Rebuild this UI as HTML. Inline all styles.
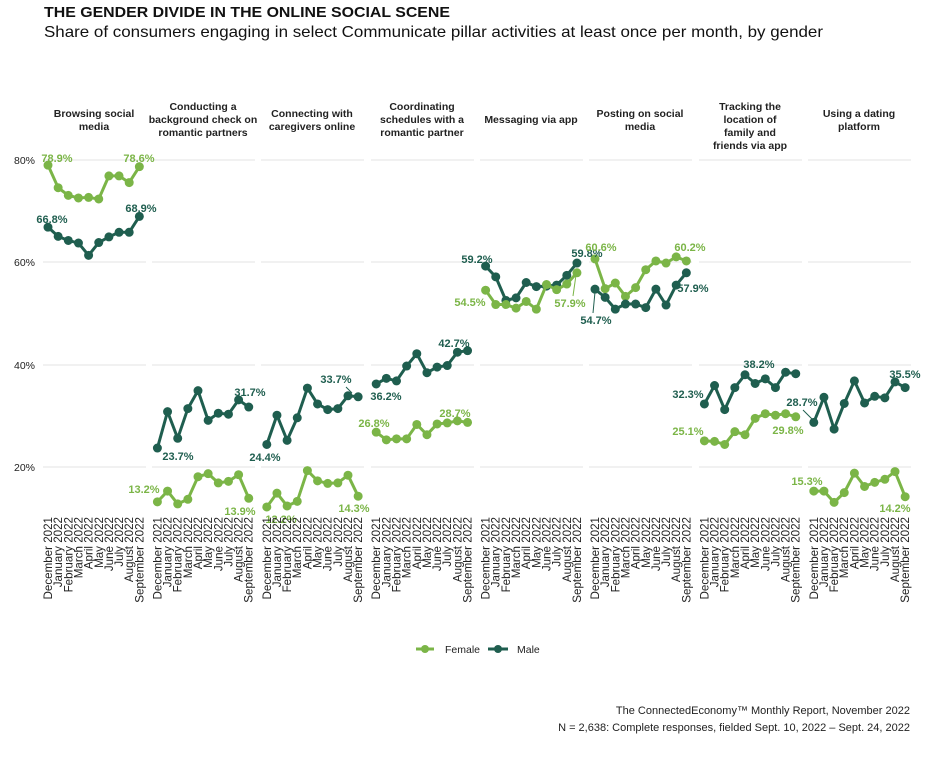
<!DOCTYPE html>
<html><head><meta charset="utf-8"><style>
html,body{margin:0;padding:0;background:#fff;}
svg{display:block;font-family:"Liberation Sans",sans-serif;}
.t{font-size:10.5px;font-weight:bold;fill:#222;text-anchor:middle;}
.m{font-size:11.6px;fill:#222;text-anchor:end;}
.f{fill:#7bb547;font-size:11px;font-weight:bold;text-anchor:middle;}
.k{fill:#1f5e4f;font-size:11px;font-weight:bold;text-anchor:middle;}
.g{stroke:#e3e3e3;stroke-width:1;}
.lf{fill:none;stroke:#7bb547;stroke-width:3;vector-effect:non-scaling-stroke;stroke-linejoin:round;}
.df{fill:none;stroke:#7bb547;stroke-width:9;stroke-linecap:round;vector-effect:non-scaling-stroke;}
.lm{fill:none;stroke:#1f5e4f;stroke-width:3;vector-effect:non-scaling-stroke;stroke-linejoin:round;}
.dm{fill:none;stroke:#1f5e4f;stroke-width:9;stroke-linecap:round;vector-effect:non-scaling-stroke;}
</style></head><body>
<svg width="935" height="760" viewBox="0 0 935 760" xmlns="http://www.w3.org/2000/svg">
<text x="44" y="17" font-size="15" font-weight="bold" fill="#111" textLength="406" lengthAdjust="spacingAndGlyphs">THE GENDER DIVIDE IN THE ONLINE SOCIAL SCENE</text>
<text x="44" y="37" font-size="16" fill="#111" textLength="779" lengthAdjust="spacingAndGlyphs">Share of consumers engaging in select Communicate pillar activities at least once per month, by gender</text>

<g font-size="10.5" fill="#222">
<text x="14" y="164">80%</text><text x="14" y="266">60%</text><text x="14" y="369">40%</text><text x="14" y="471">20%</text>
</g>
<g class="g">
<line x1="43" y1="160" x2="146" y2="160"/><line x1="43" y1="262" x2="146" y2="262"/><line x1="43" y1="365" x2="146" y2="365"/><line x1="43" y1="467" x2="146" y2="467"/>
<line x1="152" y1="160" x2="255" y2="160"/><line x1="152" y1="262" x2="255" y2="262"/><line x1="152" y1="365" x2="255" y2="365"/><line x1="152" y1="467" x2="255" y2="467"/>
<line x1="261" y1="160" x2="364" y2="160"/><line x1="261" y1="262" x2="364" y2="262"/><line x1="261" y1="365" x2="364" y2="365"/><line x1="261" y1="467" x2="364" y2="467"/>
<line x1="371" y1="160" x2="474" y2="160"/><line x1="371" y1="262" x2="474" y2="262"/><line x1="371" y1="365" x2="474" y2="365"/><line x1="371" y1="467" x2="474" y2="467"/>
<line x1="480" y1="160" x2="583" y2="160"/><line x1="480" y1="262" x2="583" y2="262"/><line x1="480" y1="365" x2="583" y2="365"/><line x1="480" y1="467" x2="583" y2="467"/>
<line x1="589" y1="160" x2="692" y2="160"/><line x1="589" y1="262" x2="692" y2="262"/><line x1="589" y1="365" x2="692" y2="365"/><line x1="589" y1="467" x2="692" y2="467"/>
<line x1="699" y1="160" x2="802" y2="160"/><line x1="699" y1="262" x2="802" y2="262"/><line x1="699" y1="365" x2="802" y2="365"/><line x1="699" y1="467" x2="802" y2="467"/>
<line x1="808" y1="160" x2="911" y2="160"/><line x1="808" y1="262" x2="911" y2="262"/><line x1="808" y1="365" x2="911" y2="365"/><line x1="808" y1="467" x2="911" y2="467"/>
</g>

<text class="t" x="94" y="117">Browsing social</text><text class="t" x="94" y="130">media</text>
<text class="t" x="203" y="110">Conducting a</text><text class="t" x="203" y="123">background check on</text><text class="t" x="203" y="136">romantic partners</text>
<text class="t" x="312" y="117">Connecting with</text><text class="t" x="312" y="130">caregivers online</text>
<text class="t" x="422" y="110">Coordinating</text><text class="t" x="422" y="123">schedules with a</text><text class="t" x="422" y="136">romantic partner</text>
<text class="t" x="531" y="123">Messaging via app</text>
<text class="t" x="640" y="117">Posting on social</text><text class="t" x="640" y="130">media</text>
<text class="t" x="750" y="110">Tracking the</text><text class="t" x="750" y="123">location of</text><text class="t" x="750" y="136">family and</text><text class="t" x="750" y="149">friends via app</text>
<text class="t" x="859" y="117">Using a dating</text><text class="t" x="859" y="130">platform</text>

<g transform="translate(48,569.5) scale(10.15,-5.125)">
<polyline class="lf" points="0,78.9 1,74.5 2,73 3,72.5 4,72.6 5,72.3 6,76.8 7,76.8 8,75.5 9,78.6"/>
<path class="df" d="M0 78.9h0M1 74.5h0M2 73h0M3 72.5h0M4 72.6h0M5 72.3h0M6 76.8h0M7 76.8h0M8 75.5h0M9 78.6h0"/>
<polyline class="lm" points="0,66.8 1,65 2,64.2 3,63.7 4,61.3 5,63.8 6,64.9 7,65.8 8,65.8 9,68.9"/>
<path class="dm" d="M0 66.8h0M1 65h0M2 64.2h0M3 63.7h0M4 61.3h0M5 63.8h0M6 64.9h0M7 65.8h0M8 65.8h0M9 68.9h0"/>
</g>
<g transform="translate(157.4,569.5) scale(10.15,-5.125)">
<polyline class="lm" points="0,23.7 1,30.8 2,25.6 3,31.4 4,34.9 5,29.1 6,30.5 7,30.3 8,33.1 9,31.7"/>
<path class="dm" d="M0 23.7h0M1 30.8h0M2 25.6h0M3 31.4h0M4 34.9h0M5 29.1h0M6 30.5h0M7 30.3h0M8 33.1h0M9 31.7h0"/>
<polyline class="lf" points="0,13.2 1,15.3 2,12.8 3,13.7 4,18.1 5,18.7 6,16.9 7,17.2 8,18.5 9,13.9"/>
<path class="df" d="M0 13.2h0M1 15.3h0M2 12.8h0M3 13.7h0M4 18.1h0M5 18.7h0M6 16.9h0M7 17.2h0M8 18.5h0M9 13.9h0"/>
</g>
<g transform="translate(266.8,569.5) scale(10.15,-5.125)">
<polyline class="lm" points="0,24.4 1,30.1 2,25.2 3,29.6 4,35.4 5,32.3 6,31.2 7,31.4 8,33.9 9,33.7"/>
<path class="dm" d="M0 24.4h0M1 30.1h0M2 25.2h0M3 29.6h0M4 35.4h0M5 32.3h0M6 31.2h0M7 31.4h0M8 33.9h0M9 33.7h0"/>
<polyline class="lf" points="0,12.2 1,14.9 2,12.4 3,13.3 4,19.3 5,17.3 6,16.8 7,16.9 8,18.4 9,14.3"/>
<path class="df" d="M0 12.2h0M1 14.9h0M2 12.4h0M3 13.3h0M4 19.3h0M5 17.3h0M6 16.8h0M7 16.9h0M8 18.4h0M9 14.3h0"/>
</g>
<g transform="translate(376.2,569.5) scale(10.15,-5.125)">
<polyline class="lm" points="0,36.2 1,37.3 2,36.8 3,39.7 4,42.1 5,38.4 6,39.5 7,39.8 8,42.4 9,42.7"/>
<path class="dm" d="M0 36.2h0M1 37.3h0M2 36.8h0M3 39.7h0M4 42.1h0M5 38.4h0M6 39.5h0M7 39.8h0M8 42.4h0M9 42.7h0"/>
<polyline class="lf" points="0,26.8 1,25.3 2,25.5 3,25.5 4,28.3 5,26.3 6,28.4 7,28.6 8,29 9,28.7"/>
<path class="df" d="M0 26.8h0M1 25.3h0M2 25.5h0M3 25.5h0M4 28.3h0M5 26.3h0M6 28.4h0M7 28.6h0M8 29h0M9 28.7h0"/>
</g>
<g transform="translate(485.6,569.5) scale(10.15,-5.125)">
<polyline class="lm" points="0,59.2 1,57.1 2,52.5 3,53 4,56 5,55.2 6,55.3 7,55.5 8,57.4 9,59.8"/>
<path class="dm" d="M0 59.2h0M1 57.1h0M2 52.5h0M3 53h0M4 56h0M5 55.2h0M6 55.3h0M7 55.5h0M8 57.4h0M9 59.8h0"/>
<polyline class="lf" points="0,54.5 1,51.7 2,51.7 3,51 4,52.3 5,50.8 6,55.6 7,54.6 8,55.7 9,57.9"/>
<path class="df" d="M0 54.5h0M1 51.7h0M2 51.7h0M3 51h0M4 52.3h0M5 50.8h0M6 55.6h0M7 54.6h0M8 55.7h0M9 57.9h0"/>
</g>
<g transform="translate(595,569.5) scale(10.15,-5.125)">
<polyline class="lf" points="0,60.6 1,54.8 2,55.9 3,53.3 4,55 5,58.5 6,60.2 7,59.8 8,61 9,60.2"/>
<path class="df" d="M0 60.6h0M1 54.8h0M2 55.9h0M3 53.3h0M4 55h0M5 58.5h0M6 60.2h0M7 59.8h0M8 61h0M9 60.2h0"/>
<polyline class="lm" points="0,54.7 1,53.1 2,50.8 3,51.8 4,51.8 5,51.1 6,54.7 7,51.6 8,55.5 9,57.9"/>
<path class="dm" d="M0 54.7h0M1 53.1h0M2 50.8h0M3 51.8h0M4 51.8h0M5 51.1h0M6 54.7h0M7 51.6h0M8 55.5h0M9 57.9h0"/>
</g>
<g transform="translate(704.4,569.5) scale(10.15,-5.125)">
<polyline class="lm" points="0,32.3 1,35.9 2,31.2 3,35.5 4,38 5,36.3 6,37.2 7,35.5 8,38.5 9,38.2"/>
<path class="dm" d="M0 32.3h0M1 35.9h0M2 31.2h0M3 35.5h0M4 38h0M5 36.3h0M6 37.2h0M7 35.5h0M8 38.5h0M9 38.2h0"/>
<polyline class="lf" points="0,25.1 1,25 2,24.4 3,26.9 4,26.3 5,29.5 6,30.4 7,30.1 8,30.4 9,29.8"/>
<path class="df" d="M0 25.1h0M1 25h0M2 24.4h0M3 26.9h0M4 26.3h0M5 29.5h0M6 30.4h0M7 30.1h0M8 30.4h0M9 29.8h0"/>
</g>
<g transform="translate(813.8,569.5) scale(10.15,-5.125)">
<polyline class="lm" points="0,28.7 1,33.6 2,27.4 3,32.4 4,36.8 5,32.5 6,33.8 7,33.5 8,36.6 9,35.5"/>
<path class="dm" d="M0 28.7h0M1 33.6h0M2 27.4h0M3 32.4h0M4 36.8h0M5 32.5h0M6 33.8h0M7 33.5h0M8 36.6h0M9 35.5h0"/>
<polyline class="lf" points="0,15.3 1,15.3 2,13.1 3,15 4,18.8 5,16.2 6,17 7,17.6 8,19.1 9,14.2"/>
<path class="df" d="M0 15.3h0M1 15.3h0M2 13.1h0M3 15h0M4 18.8h0M5 16.2h0M6 17h0M7 17.6h0M8 19.1h0M9 14.2h0"/>
</g>

<text class="f" x="57" y="162">78.9%</text><text class="f" x="139" y="162">78.6%</text>
<text class="k" x="52" y="223">66.8%</text><text class="k" x="141" y="212">68.9%</text>
<text class="k" x="250" y="396">31.7%</text><text class="k" x="178" y="460">23.7%</text>
<text class="f" x="144" y="493">13.2%</text><text class="f" x="240" y="515">13.9%</text>
<text class="k" x="265" y="461">24.4%</text><text class="k" x="336" y="383">33.7%</text>
<line x1="346" y1="387" x2="352" y2="393" stroke="#1f5e4f" stroke-width="1"/>
<text class="f" x="281" y="523">12.2%</text><text class="f" x="354" y="512">14.3%</text>
<text class="k" x="386" y="400">36.2%</text><text class="k" x="454" y="347">42.7%</text>
<text class="f" x="374" y="427">26.8%</text><text class="f" x="455" y="417">28.7%</text>
<text class="k" x="477" y="263">59.2%</text><text class="k" x="587" y="257">59.8%</text>
<text class="f" x="470" y="306">54.5%</text><text class="f" x="570" y="307">57.9%</text>
<line x1="573" y1="296" x2="576" y2="275" stroke="#7bb547" stroke-width="1"/>
<text class="f" x="601" y="251">60.6%</text><text class="f" x="690" y="251">60.2%</text>
<text class="k" x="596" y="324">54.7%</text><text class="k" x="693" y="292">57.9%</text>
<line x1="593" y1="313" x2="595" y2="292" stroke="#1f5e4f" stroke-width="1"/>
<text class="k" x="688" y="398">32.3%</text><text class="k" x="759" y="368">38.2%</text>
<text class="f" x="688" y="435">25.1%</text><text class="f" x="788" y="434">29.8%</text>
<text class="k" x="802" y="406">28.7%</text>
<line x1="803" y1="410" x2="812" y2="419" stroke="#1f5e4f" stroke-width="1"/>
<text class="k" x="905" y="378">35.5%</text>
<text class="f" x="807" y="485">15.3%</text><text class="f" x="895" y="512">14.2%</text>

<defs>
<g id="xl">
<text class="m" x="0" y="4">December 2021</text>
<text class="m" x="0" y="14.15">January 2022</text>
<text class="m" x="0" y="24.3">February 2022</text>
<text class="m" x="0" y="34.45">March 2022</text>
<text class="m" x="0" y="44.6">April 2022</text>
<text class="m" x="0" y="54.75">May 2022</text>
<text class="m" x="0" y="64.9">June 2022</text>
<text class="m" x="0" y="75.05">July 2022</text>
<text class="m" x="0" y="85.2">August 2022</text>
<text class="m" x="0" y="95.35">September 2022</text>
</g>
</defs>
<use href="#xl" transform="translate(48,517) rotate(-90)"/>
<use href="#xl" transform="translate(157.4,517) rotate(-90)"/>
<use href="#xl" transform="translate(266.8,517) rotate(-90)"/>
<use href="#xl" transform="translate(376.2,517) rotate(-90)"/>
<use href="#xl" transform="translate(485.6,517) rotate(-90)"/>
<use href="#xl" transform="translate(595,517) rotate(-90)"/>
<use href="#xl" transform="translate(704.4,517) rotate(-90)"/>
<use href="#xl" transform="translate(813.8,517) rotate(-90)"/>

<line x1="416" y1="649" x2="434" y2="649" stroke="#7bb547" stroke-width="3"/><circle cx="425" cy="649" r="4" fill="#7bb547"/>
<text x="445" y="653" font-size="10.5" fill="#222">Female</text>
<line x1="488" y1="649" x2="508" y2="649" stroke="#1f5e4f" stroke-width="3"/><circle cx="498" cy="649" r="4" fill="#1f5e4f"/>
<text x="517" y="653" font-size="10.5" fill="#222">Male</text>

<text x="910" y="714" font-size="11" fill="#222" text-anchor="end">The ConnectedEconomy™ Monthly Report, November 2022</text>
<text x="910" y="731" font-size="11" fill="#222" text-anchor="end">N = 2,638: Complete responses, fielded Sept. 10, 2022 – Sept. 24, 2022</text>
</svg>
</body></html>
